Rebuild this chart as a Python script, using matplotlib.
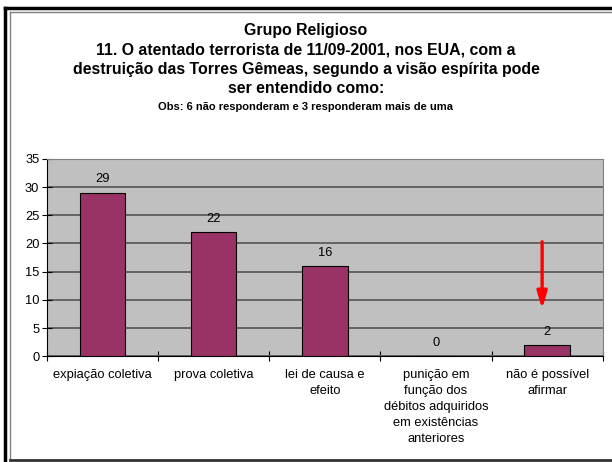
import numpy as np
import matplotlib.pyplot as plt
from matplotlib.lines import Line2D

plt.rcParams['font.family'] = ['Liberation Sans', 'DejaVu Sans']

categorias = ['expiação coletiva', 'prova coletiva', 'lei de causa e\nefeito',
              'punição em\nfunção dos\ndébitos adquiridos\nem existências\nanteriores',
              'não é possível\nafirmar']
respostas = [29, 22, 16, 0, 2]

titulo = ('Grupo Religioso\n11. O atentado terrorista de 11/09-2001, nos EUA, com a\n'
          'destruição das Torres Gêmeas, segundo a visão espírita pode\n'
          'ser entendido como:')
obs = 'Obs: 6 não responderam e 3 responderam mais de uma'

fig = plt.figure(figsize=(6.12, 4.62), dpi=100)
ax = fig.add_axes([0.0768, 0.229, 0.908, 0.427])

x = np.arange(len(respostas))
ax.set_facecolor('#c0c0c0')
ax.bar(x, respostas, width=0.41, color='#993366', edgecolor='black', linewidth=0.8, zorder=3)
for xi, v in zip(x, respostas):
    ax.text(xi, v + 1.3, str(v), ha='center', va='bottom', fontsize=9.3)

ax.set_xlim(-0.5, len(respostas) - 0.5)
ax.set_ylim(0, 35)
ax.set_yticks(np.arange(0, 36, 5))
ax.yaxis.grid(True, color='#555555', linewidth=1.2, zorder=1)
ax.set_axisbelow(True)

# ticks between categories, labels centred under the bars
ax.set_xticks(np.arange(-0.5, len(respostas)), minor=False)
ax.set_xticklabels([])
ax.set_xticks(x, minor=True)
ax.set_xticklabels(categorias, minor=True, fontsize=9.3, linespacing=1.45, va='top')
ax.tick_params(axis='x', which='minor', length=0, pad=9)
ax.tick_params(axis='x', which='major', length=7, direction='inout', width=0.8)
ax.tick_params(axis='y', length=7, direction='inout', width=0.8, labelsize=9.3, pad=2)

for s in ['top', 'right']:
    ax.spines[s].set_color('#808080')
ax.spines['left'].set_color('black')
ax.spines['bottom'].set_color('black')

# seta vermelha apontando para a última barra
ax.annotate('', xy=(3.955, 8.4), xytext=(3.955, 20.3),
            arrowprops=dict(arrowstyle='-|>,head_length=1.0,head_width=0.3',
                            color='#ff0000', lw=2.4, shrinkA=0, shrinkB=0), zorder=5)

fig.text(0.5, 1 - 23 / 462, titulo, ha='center', va='top', fontsize=11.4, fontweight='bold',
         linespacing=1.37)
fig.text(0.5, 1 - 107.5 / 462, obs, ha='center', va='center', fontsize=8, fontweight='bold')

# moldura da página
fig.add_artist(Line2D([4.5 / 612, 4.5 / 612], [0, 1 - 7.5 / 462], color='black', lw=2.5))
fig.add_artist(Line2D([4.5 / 612, 1], [1 - 7.5 / 462, 1 - 7.5 / 462], color='black', lw=2.5))
fig.add_artist(Line2D([9.5 / 612, 9.5 / 612], [2 / 462, 1 - 11.5 / 462], color='#808080', lw=1))
fig.add_artist(Line2D([9.5 / 612, 1], [1 - 11.5 / 462, 1 - 11.5 / 462], color='#808080', lw=1))
fig.add_artist(Line2D([9.5 / 612, 1], [2 / 462, 2 / 462], color='#333333', lw=2))

fig.savefig('out.png', dpi=100)
